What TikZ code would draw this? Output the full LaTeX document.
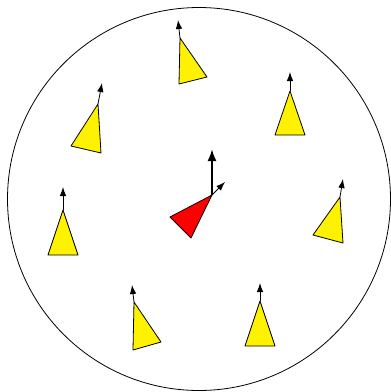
\documentclass[tikz,border=0pt]{standalone}
\usepackage{tikz}
\usetikzlibrary{arrows.meta}

\begin{document}
\begin{tikzpicture}[x=1pt,y=-1pt,
  agent/.style={draw=black,fill=yellow,line width=0.8pt,line join=round},
  leader/.style={draw=black,fill=red,line width=0.8pt,line join=round},
  heading/.style={-{Latex[length=9pt,width=6.5pt]},line width=0.8pt},
  goal/.style={-{Latex[length=12pt,width=9pt]},line width=2pt}]
\useasboundingbox (0,0) rectangle (391,392);
%The arena that holds every robot
\node[draw,circle,minimum size=383pt,inner sep=0pt,line width=0.8pt] (arena) at (199,199) {};
%Each follower: apex, two base corners, arrow tip
\foreach \name/\ax/\ay/\lx/\ly/\rx/\ry/\tx/\ty in {
    top/180/38/179/84/207/77/178/20,
    upleft/98/104/71/146/101/153/102/83,
    upright/290/91/275/135/305/135/290/72,
    left/63/210/48/255/78/255/63/187,
    right/340/197/313/235/343/243/343/179,
    lowleft/134/302/133/350/161/342/132/285,
    lowright/260/301/245/346/275/346/260/283}{
  \coordinate (\name-a) at (\ax,\ay);
  \coordinate (\name-t) at (\tx,\ty);
  \draw[agent] (\name-a) -- (\lx,\ly) -- (\rx,\ry) -- cycle;
  \draw[heading] (\name-a) -- (\name-t);
}
%The leader in the middle with its two arrows
\coordinate (lead-a) at (212,195);
\coordinate (lead-goal) at (212,149);
\coordinate (lead-t) at (225,182);
\draw[leader] (lead-a) -- (170,217) -- (191,238) -- cycle;
\draw[goal] (lead-a) -- (lead-goal);
\draw[heading] (lead-a) -- (lead-t);
\end{tikzpicture}
\end{document}
